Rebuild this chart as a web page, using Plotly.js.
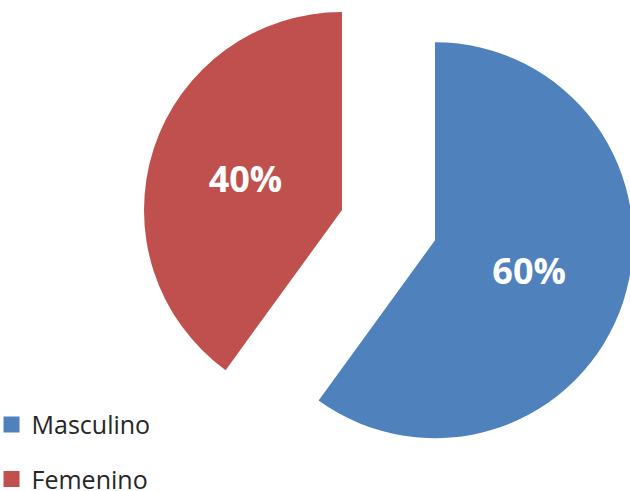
<!DOCTYPE html>
<html>
<head>
<meta charset="utf-8">
<script src="https://cdn.plot.ly/plotly-3.0.1.min.js"></script>
<style>
html,body{margin:0;padding:0;overflow:hidden;background:#fff;width:630px;height:491px;}
#chart{width:700px;height:600px;margin-top:-50px;}
</style>
</head>
<body>
<div id="chart"></div>
<script>
var labels = ["Masculino", "Femenino"];
var values = [60, 40];
var colors = ["#4F81BD", "#C0504D"];
var pulls = [0.247, 0.247];

var data = [{
  type: "pie",
  labels: labels,
  values: values,
  sort: false,
  direction: "clockwise",
  rotation: 0,
  pull: pulls,
  marker: {colors: colors, line: {width: 0}},
  textinfo: "percent",
  textposition: "inside",
  insidetextorientation: "horizontal",
  textfont: {family: "Open Sans", size: 36, color: "#ffffff", weight: "bold"},
  hoverinfo: "label+percent",
  showlegend: false,
  domain: {x: [0.2021, 0.9079], y: [0.13, 0.953]}
}];

labels.forEach(function (lab, i) {
  data.push({
    type: "scatter",
    mode: "markers",
    x: [null],
    y: [null],
    name: lab,
    legendgroup: "g" + i,
    marker: {symbol: "square", size: 16, color: colors[i]},
    showlegend: true,
    hoverinfo: "skip"
  });
});

var layout = {
  width: 700,
  height: 600,
  margin: {l: 0, r: 0, t: 0, b: 0, autoexpand: false},
  paper_bgcolor: "#ffffff",
  plot_bgcolor: "rgba(0,0,0,0)",
  xaxis: {visible: false},
  yaxis: {visible: false},
  showlegend: true,
  legend: {
    x: -0.0121, xanchor: "left",
    y: 0.2472, yanchor: "top",
    traceorder: "grouped",
    tracegroupgap: 19,
    font: {family: "Open Sans", size: 25, color: "#262626"},
    bgcolor: "rgba(0,0,0,0)",
    itemclick: false
  }
};

Plotly.newPlot("chart", data, layout, {displayModeBar: false, staticPlot: true});
</script>
</body>
</html>
